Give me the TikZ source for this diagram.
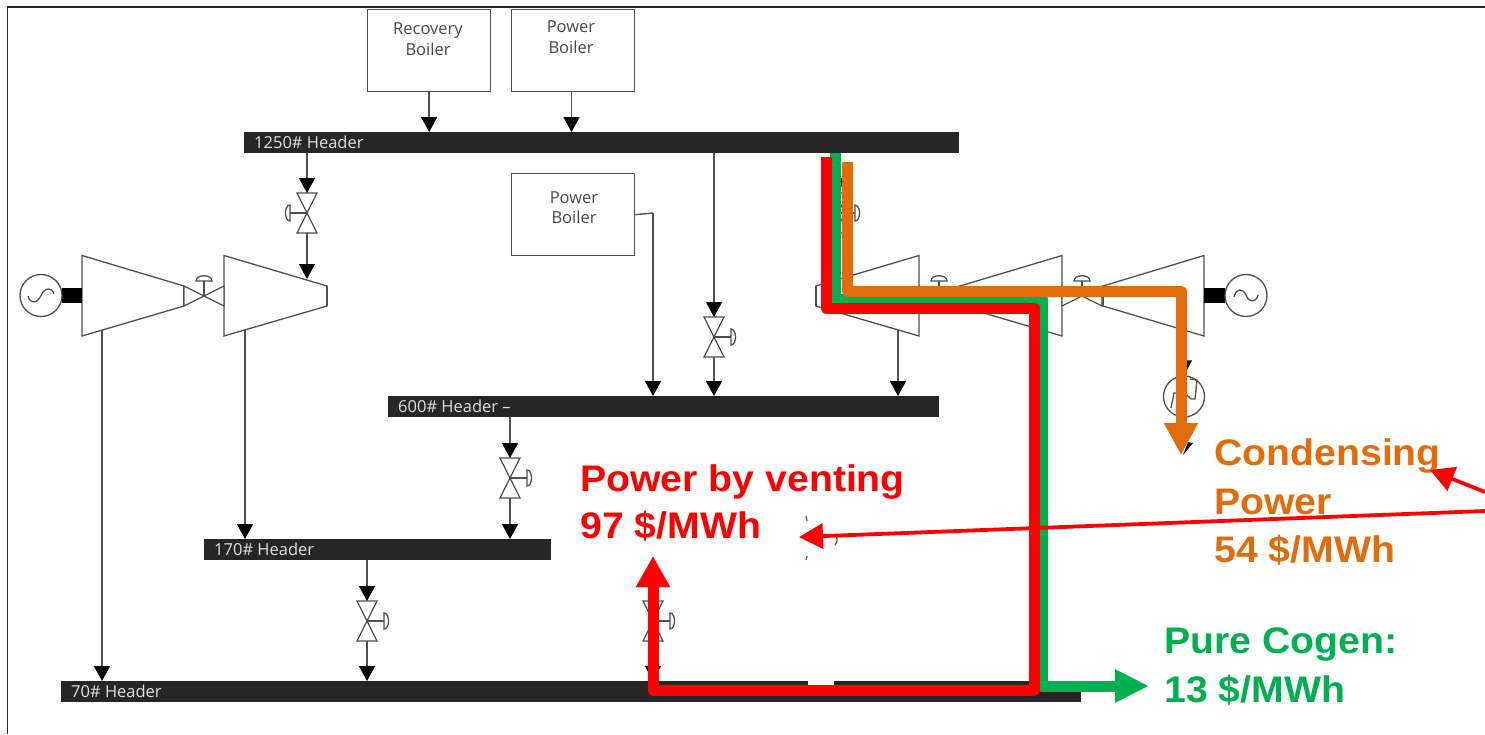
\documentclass[tikz,border=0pt]{standalone}
\usepackage{fontspec}
\setmainfont{Open Sans}
\newfontfamily\lab[FakeStretch=1.06]{Liberation Sans Bold}
\usetikzlibrary{arrows.meta}
\definecolor{hdr}{HTML}{262626}
\definecolor{ln}{HTML}{4F4F4F}
\definecolor{cred}{HTML}{FF0000}
\definecolor{cgrn}{HTML}{00B050}
\definecolor{corg}{HTML}{E36C0A}
\tikzset{
  bar/.style={fill=hdr,draw=none,inner sep=0pt,anchor=north west},
  hlabel/.style={text=white!88!black,font=\fontsize{16.5}{17}\selectfont,anchor=west,inner sep=0pt},
  box/.style={draw=ln,line width=1.3pt,fill=white,inner sep=0pt,anchor=north west},
  boxlabel/.style={font=\fontsize{16.5}{20.5}\selectfont,align=center,inner sep=0pt,text=black!72},
  sym/.style={draw=ln,line width=1.3pt,line join=miter},
  flow/.style={draw=ln,line width=1.4pt,-{Triangle[length=15pt,width=16pt,color=black]}},
  plain/.style={draw=ln,line width=1.4pt},
  shaft/.style={fill=black,draw=none,inner sep=0pt,anchor=north west},
  gen/.style={circle,draw=ln,line width=1.3pt,fill=white,minimum size=42pt,inner sep=0pt},
  fat/.style={line width=11pt,line join=round},
  big/.style={font=\lab\fontsize{37}{37}\selectfont,anchor=base west,inner sep=0pt},
  note/.style={draw=cred,line width=3.8pt,-{Triangle[length=24pt,width=25pt]}},
}
% name, x, y, side (+1 right, -1 left)
\newcommand{\vvalve}[4]{%
  \coordinate (#1t) at (#2,#3-20);
  \coordinate (#1b) at (#2,#3+20);
  \draw[sym,fill=white] ({#2-10},{#3-20}) -- ({#2+10},{#3-20}) -- ({#2-10},{#3+20}) -- ({#2+10},{#3+20}) -- cycle;
  \draw[sym] (#2,#3) -- ({#2+#4*17},#3);
  \draw[sym] ({#2+#4*17},{#3-8}) .. controls ({#2+#4*23},{#3-8}) and ({#2+#4*23},{#3+8}) .. ({#2+#4*17},{#3+8}) -- cycle;
}
% name, x, y
\newcommand{\hvalve}[3]{%
  \draw[sym,fill=white] ({#2-20},{#3-10}) -- ({#2-20},{#3+10}) -- ({#2+20},{#3-10}) -- ({#2+20},{#3+10}) -- cycle;
  \draw[sym] (#2,#3) -- (#2,{#3-15});
  \draw[sym] ({#2-8},{#3-15}) .. controls ({#2-8},{#3-22}) and ({#2+8},{#3-22}) .. ({#2+8},{#3-15}) -- cycle;
}
% wide x, narrow x
\newcommand{\turbine}[2]{%
  \draw[sym,fill=white] (#1,255.5) -- (#2,286) -- (#2,306) -- (#1,336) -- cycle;
  \draw[draw=ln,line width=2pt] (#2,286) -- (#2,306);
}
\begin{document}
\begin{tikzpicture}[x=1pt,y=-1pt]
\useasboundingbox (0,0) rectangle (1485,734);
\fill[white] (0,0) rectangle (1485,734);
\draw[draw=hdr,line width=1.6pt] (7.5,734) -- (7.5,7) -- (1485,7);

% boxes
\node[box,minimum width=123pt,minimum height=82pt] (recov) at (367,9) {};
\node[box,minimum width=123pt,minimum height=82pt] (pb1) at (511,9) {};
\node[box,minimum width=123pt,minimum height=82pt] (pb2) at (511,173) {};
\node[boxlabel] (recovt) at (428,39) {Recovery\\Boiler};
\node[boxlabel] (pb1t) at (571,37) {Power\\Boiler};
\node[boxlabel] (pb2t) at (574,207.5) {Power\\Boiler};

% headers
\node[bar,minimum width=715pt,minimum height=21pt] (h1250) at (244,132) {};
\node[bar,minimum width=551pt,minimum height=21pt] (h600) at (388,396) {};
\node[bar,minimum width=347pt,minimum height=21pt] (h170) at (204,539) {};
\node[bar,minimum width=1020pt,minimum height=21pt] (h70) at (61,681) {};
\node[hlabel] (t1250) at (254,142.5) {1250\# Header};
\node[hlabel] (t600) at (398,406.5) {600\# Header –};
\node[hlabel] (t170) at (214,549.5) {170\# Header};
\node[hlabel] (t70) at (71,691.5) {70\# Header};
\fill[white] (808,681) rectangle (834,685);

% turbines
\turbine{82}{184}
\turbine{224}{327}
\turbine{919}{816}
\turbine{1062}{960}
\turbine{1204}{1103}
\hvalve{vh1}{204}{296}
\hvalve{vh2}{939}{296}
\hvalve{vh3}{1082}{296}

% generators
\node[shaft,minimum width=20pt,minimum height=15pt] (s1) at (62,288) {};
\node[shaft,minimum width=21pt,minimum height=15pt] (s2) at (1204,288) {};
\node[gen] (g1) at (41,295.5) {};
\node[gen] (g2) at (1246,295.5) {};
\draw[sym] (28,296) .. controls (30,304) and (37,304) .. (41,295.5) .. controls (45,287) and (52,287) .. (54,294);
\draw[sym] (1234,297) .. controls (1236,288) and (1243,288) .. (1246,295) .. controls (1249,303) and (1256,303) .. (1258,295);
\node[gen,minimum size=41pt] (cond) at (1184,396.5) {};
\draw[sym] (1171,408) -- (1174,393) -- (1185,393) -- (1191,399) -- (1195,399) -- (1197,380) -- (1190,379);

% valves
\vvalve{va}{307}{213}{-1}
\vvalve{vb}{714}{337}{1}
\vvalve{vc}{510}{478}{1}
\vvalve{vd}{367}{621}{1}
\vvalve{ve}{653}{621}{1}
\vvalve{vf}{838}{213}{1}

% turbine ports
\coordinate (p1) at (102,330);
\coordinate (p2) at (245,330);
\coordinate (p3) at (898,330);
\coordinate (p4) at (307,279);
\coordinate (c1) at (653,213);
\coordinate (c2) at (571.5,91);
\coordinate (c3) at (1184,350);

% connectors
\draw[flow] (recov.south) -- (recov.south |- h1250.north);
\draw[flow] (c2) -- (c2 |- h1250.north);
\draw[flow] (h1250.south -| vat) -- (vat);
\draw[flow] (vab) -- (p4);
\draw[flow] (h1250.south -| vbt) -- (vbt);
\draw[flow] (vbb) -- (h600.north -| vbb);
\draw[plain] (pb2.east) -- (c1);
\draw[flow] (c1) -- (c1 |- h600.north);
\draw[flow] (p3) -- (p3 |- h600.north);
\draw[flow] (h600.south -| vct) -- (vct);
\draw[flow] (vcb) -- (h170.north -| vcb);
\draw[flow] (h170.south -| vdt) -- (vdt);
\draw[flow] (vdb) -- (h70.north -| vdb);
\draw[flow] (veb) -- (h70.north -| veb);
\draw[flow] (p1) -- (p1 |- h70.north);
\draw[flow] (p2) -- (p2 |- h170.north);
\draw[flow] (h1250.south -| vft) -- (vft);
\draw[flow] (c3) -- (cond.north);

% leftovers of the hidden symbol
\draw[draw=ln,line width=1.2pt] (806,516) -- (807,521) (807,556) -- (806,560) (836,536) .. controls (838,540) and (837,543) .. (835,545);

% thick paths
\coordinate (rs) at (826,157);
\coordinate (gs) at (835,153);
\coordinate (os) at (847,162);
\coordinate (rt) at (653,556);
\coordinate (gt) at (1149,686);
\coordinate (ot) at (1181,455);
\draw[cgrn,fat,-{Triangle[length=34pt,width=31pt]}] (gs) -- (835,299) -- (1042,299) -- (1042,686) -- (gt);
\draw[cred,fat,-{Triangle[length=31pt,width=32pt]}] (rs) -- (826,308) -- (1034.5,308) -- (1034.5,690) -- (653,690) -- (rt);
\draw[corg,fat,-{Triangle[length=32pt,width=32pt]}] (os) -- (847,291) -- (1181,291) -- (ot);
\fill[black] (1183,455) -- (1188,442) -- (1193,443) -- cycle;

% labels
\node[big,text=cred] (lv1) at (580,491) {Power by venting};
\node[big,text=cred] (lv2) at (580,538) {97 \$/MWh};
\node[big,text=corg] (lc1) at (1214,465) {Condensing};
\node[big,text=corg] (lc2) at (1214,514) {Power};
\node[big,text=corg] (lc3) at (1214,562) {54 \$/MWh};
\node[big,text=cgrn] (lp1) at (1164,653) {Pure Cogen:};
\node[big,text=cgrn] (lp2) at (1164,702) {13 \$/MWh};

% red note arrows
\coordinate (n1) at (1485,511);
\coordinate (n1t) at (799,537);
\coordinate (n2) at (1485,492);
\coordinate (n2t) at (1430,470);
\draw[note] (n1) -- (n1t);
\draw[note] (n2) -- (n2t);
\end{tikzpicture}
\end{document}
